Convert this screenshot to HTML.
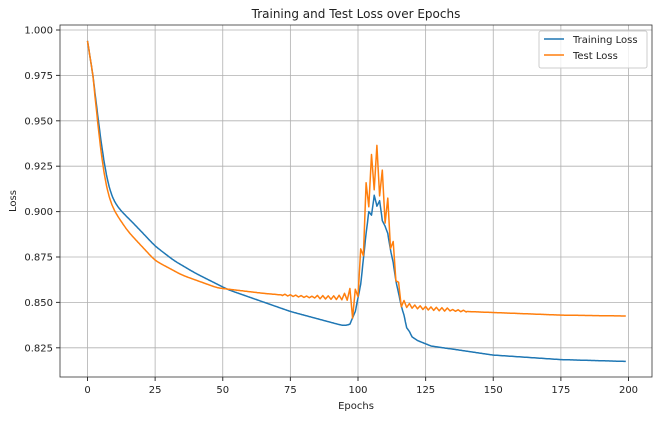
<!DOCTYPE html>
<html><head><meta charset="utf-8"><style>
body{margin:0;background:#fff;}
svg text{font-family:"DejaVu Sans","Liberation Sans",sans-serif;fill:#222;}
</style></head><body>
<svg id="s" width="659" height="418" xmlns="http://www.w3.org/2000/svg">
<rect width="659" height="418" fill="#fff"/>
<g id="grid" stroke="#b0b0b0" stroke-width="0.8"></g>
<g id="ticks" font-size="10"></g>
<polyline id="tr" fill="none" stroke="#1f77b4" stroke-width="1.5" stroke-linejoin="round"/>
<polyline id="te" fill="none" stroke="#ff7f0e" stroke-width="1.5" stroke-linejoin="round"/>
<rect x="60" y="25" width="592" height="352" fill="none" stroke="#333" stroke-width="0.8"/>
<text x="356" y="18" font-size="12" text-anchor="middle">Training and Test Loss over Epochs</text>
<text x="356" y="409" font-size="10" text-anchor="middle">Epochs</text>
<text x="16" y="201" font-size="10" text-anchor="middle" transform="rotate(-90 16 201)">Loss</text>
<rect x="539" y="31" width="108" height="37" fill="#fff" fill-opacity="0.8" stroke="#ccc" rx="2"/>
<line x1="544" y1="39" x2="564" y2="39" stroke="#1f77b4" stroke-width="1.5"/>
<line x1="544" y1="55" x2="564" y2="55" stroke="#ff7f0e" stroke-width="1.5"/>
<text x="573" y="43" font-size="10">Training Loss</text>
<text x="573" y="59" font-size="10">Test Loss</text>
</svg>
<script>
const X=e=>87.5+2.705*e, Y=v=>30+1816*(1-v);
const g=document.getElementById('grid'),t=document.getElementById('ticks');
let h='',tt='';
for(let e=0;e<=200;e+=25){const x=X(e);h+=`<line x1="${x}" y1="25" x2="${x}" y2="377"/>`;tt+=`<line x1="${x}" y1="377" x2="${x}" y2="381" stroke="#333"/><text x="${x}" y="393" text-anchor="middle">${e}</text>`;}
for(let i=0;i<=7;i++){const v=1-0.025*i,y=Y(v);h+=`<line x1="60" y1="${y}" x2="652" y2="${y}"/>`;tt+=`<line x1="56" y1="${y}" x2="60" y2="${y}" stroke="#333"/><text x="53" y="${y+3.5}" text-anchor="end">${v.toFixed(3)}</text>`;}
g.innerHTML=h;t.innerHTML=tt;
function interp(k,e){for(let i=0;i<k.length-1;i++){if(e>=k[i][0]&&e<=k[i+1][0]){const f=(e-k[i][0])/(k[i+1][0]-k[i][0]);return k[i][1]+f*(k[i+1][1]-k[i][1]);}}return k[k.length-1][1];}
const TK=[[0,0.994],[2,0.975],[4,0.95],[6,0.927],[8,0.912],[10,0.905],[12,0.901],[18,0.892],[25,0.881],[32,0.873],[40,0.866],[52,0.857],[75,0.845],[90,0.839],[95,0.837],[97,0.838],[99,0.845],[101,0.86],[103,0.888],[104,0.9],[105,0.898],[106,0.909],[107,0.903],[108,0.906],[109,0.895],[110,0.892],[111,0.888],[112,0.879],[113,0.872],[114,0.862],[115,0.855],[116,0.848],[117,0.843],[118,0.836],[119,0.834],[120,0.831],[122,0.829],[127,0.826],[150,0.821],[175,0.8185],[199,0.8175]];
const EK=[[0,0.994],[2,0.975],[4,0.945],[6,0.92],[8,0.907],[10,0.9],[15,0.889],[25,0.873],[35,0.865],[48,0.858],[65,0.855],[80,0.853],[95,0.852],[125,0.8465],[140,0.845],[175,0.843],[199,0.8425]];
const S=0.25,N=Math.round(199/S);
function smooth(K,rad,pass,lim){let arr=[];for(let i=0;i<=N;i++)arr.push(interp(K,i*S));
for(let p=0;p<pass;p++){const o=arr.slice();for(let i=0;i<=N;i++){const e=i*S;if(e<lim[0]||e>lim[1])continue;let s=0,c=0;for(let j=-rad;j<=rad;j++){const k=i+j;if(k>=0&&k<=N){s+=arr[k];c++;}}o[i]=s/c;}arr=o;}return arr;}
const trS=smooth(TK,4,3,[3,96]), teS=smooth(EK,4,3,[3,200]);
const at=(arr,e)=>arr[Math.round(e/S)];
let a='',b='';
for(let i=0;i<=N;i++){const e=i*S;a+=X(e).toFixed(1)+','+Y(trS[i]).toFixed(1)+' ';}
for(let i=0;i<=N;i++){const e=i*S;
 if(e>=72&&e<=140){if(Math.abs(e-Math.round(e))>1e-6)continue;}
 const tr=at(trS,e);let te=at(teS,e);
 if(e>=72&&e<=140){
  const env=Math.exp(-Math.pow((e-106)/6.5,2));
  const base=Math.max(te,tr);
  let small=(e>=85&&e<=133)?0.0012:0.0006;
  if(e%2){te=base+small+0.033*env;}else{te=(env>0.12)?tr-0.001+0.004*env:base-small*0.5;}
  if(e>=96&&e<=100&&e%2) te=base+0.006;
 }
 b+=X(e).toFixed(1)+','+Y(te).toFixed(1)+' ';}
document.getElementById('tr').setAttribute('points',a);document.getElementById('te').setAttribute('points',b);
</script>
</body></html>
